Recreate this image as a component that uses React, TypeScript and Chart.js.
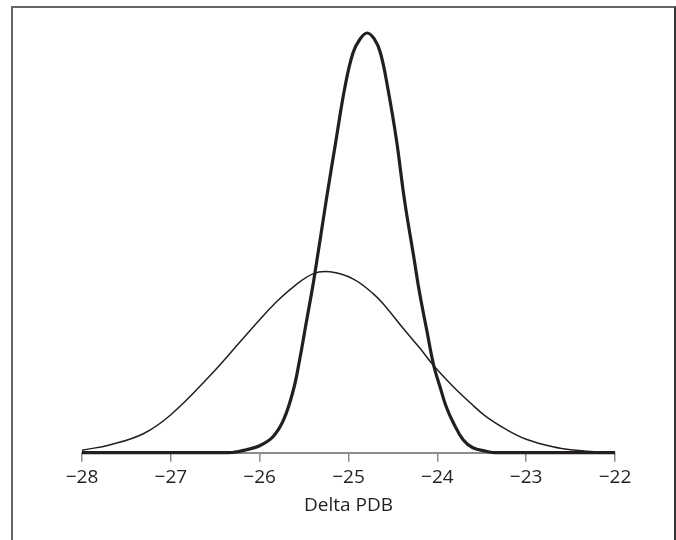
import React, { useEffect, useRef } from "react";
import { Chart, registerables } from "chart.js";

Chart.register(...registerables);

// Narrow (thick line) distribution
const narrowX = [-28, -27, -26.45, -26.3, -26.15, -26.0, -25.85, -25.73, -25.62, -25.55, -25.47, -25.39, -25.25, -25.14, -25.04, -24.95, -24.87, -24.79, -24.71, -24.64, -24.56, -24.46, -24.37, -24.26, -24.2, -24.12, -24.04, -23.97, -23.9, -23.82, -23.71, -23.6, -23.45, -23.35, -22];
const narrowY = [0, 0, 0, 0.3, 3, 7, 16, 33, 63, 93, 133, 173, 253, 313, 366, 400, 414, 420, 414, 400, 366, 313, 253, 193, 160, 123, 87, 66, 46, 30, 13, 5, 1.5, 0, 0];

// Wide (thin line) distribution
const wideX = [-28, -27.68, -27.31, -27.0, -26.56, -26.19, -26.0, -25.81, -25.62, -25.4, -25.21, -24.95, -24.72, -24.61, -24.39, -24.2, -24.04, -23.82, -23.63, -23.45, -23.22, -23.0, -22.7, -22.47, -22.23];
const wideY = [2.5, 8, 19, 38, 77, 114, 133, 151, 166, 179, 181, 174, 159, 149, 125, 105, 87, 66, 50, 36, 23, 13.5, 6, 2.7, 1];

const xTicks = [-28, -27, -26, -25, -24, -23, -22];
const xTitle = "Delta PDB";

const FONT = "'Open Sans', 'Noto Sans', sans-serif";

export default function App() {
  const ref = useRef<HTMLCanvasElement | null>(null);

  useEffect(() => {
    if (!ref.current) return;
    const chart = new Chart(ref.current, {
      type: "line",
      data: {
        datasets: [
          {
            data: wideX.map((x, i) => ({ x, y: wideY[i] })),
            borderColor: "#231f20",
            borderWidth: 1.5,
            pointRadius: 0,
            tension: 0.4,
            fill: false,
          },
          {
            data: narrowX.map((x, i) => ({ x, y: narrowY[i] })),
            borderColor: "#231f20",
            borderWidth: 3.2,
            pointRadius: 0,
            tension: 0.4,
            fill: false,
          },
        ],
      },
      options: {
        responsive: false,
        animation: false,
        clip: false as any,
        layout: { padding: { left: 82, right: 61, top: 13, bottom: 0 } },
        plugins: { legend: { display: false }, tooltip: { enabled: false } },
        scales: {
          x: {
            type: "linear",
            min: -28,
            max: -22,
            afterBuildTicks: (scale: any) => {
              scale.ticks = xTicks.map((v) => ({ value: v }));
            },
            afterFit: (scale: any) => {
              scale.height = 87.3;
            },
            ticks: {
              color: "#231f20",
              font: { family: FONT, size: 19 },
              padding: 4,
              callback: (v: any) => (Number(v) < 0 ? "\u2212" + Math.abs(Number(v)) : String(v)),
            },
            grid: {
              drawOnChartArea: false,
              drawTicks: true,
              tickLength: 9,
              color: "#8c8c8c",
              lineWidth: 1.5,
            },
            border: { display: true, color: "#8c8c8c", width: 2 },
            title: {
              display: true,
              text: xTitle,
              color: "#231f20",
              font: { family: FONT, size: 19 },
              padding: { top: 0, bottom: 22.6 },
            },
          },
          y: {
            display: false,
            min: 0,
            max: 440,
          },
        },
      },
    });
    return () => chart.destroy();
  }, []);

  return (
    <div style={{ position: "fixed", left: 0, top: 0, width: 676, height: 540, background: "#fff", overflow: "hidden" }}>
      <div
        style={{
          position: "absolute",
          left: 11,
          top: 6,
          width: 665,
          height: 620,
          boxSizing: "border-box",
          borderTop: "2px solid #666",
          borderLeft: "2px solid #666",
          borderRight: "2px solid #333",
        }}
      />
      <canvas ref={ref} width={676} height={540} style={{ position: "absolute", left: 0, top: 0 }} />
    </div>
  );
}
